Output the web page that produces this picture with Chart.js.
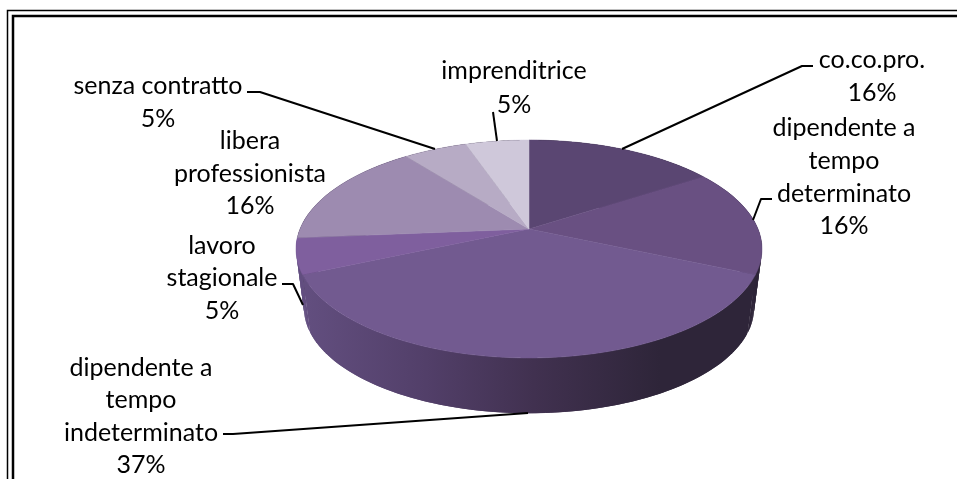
<!DOCTYPE html>
<html lang="it">
<head>
<meta charset="utf-8">
<title>Posizione lavorativa</title>
<style>
html,body{margin:0;padding:0;background:#fff;overflow:hidden}
canvas{display:block}
</style>
<script src="https://cdn.jsdelivr.net/npm/chart.js@4"></script>
</head>
<body>
<canvas id="c" width="957" height="479"></canvas>
<script>
// Data
const categories = ["co.co.pro.", "dipendente a tempo determinato", "dipendente a tempo indeterminato",
  "lavoro stagionale", "libera professionista", "senza contratto", "imprenditrice"];
const values = [3, 3, 7, 1, 3, 1, 1];
const labelLines = [
  ["co.co.pro."],
  ["dipendente a", "tempo", "determinato"],
  ["dipendente a", "tempo", "indeterminato"],
  ["lavoro", "stagionale"],
  ["libera", "professionista"],
  ["senza contratto"],
  ["imprenditrice"]
];
const sliceColors = ["#5a4672", "#695082", "#725a90", "#7f5f9e", "#9d8bb0", "#b7abc5", "#cfc8da"];

// Layout of the labels and leaders (not data)
const labelCenterX = [872, 844, 141, 222, 250, 158, 514];
const labelBaselines = [
  [67.5, 100.5],
  [135.5, 168.5, 201.5, 233.5],
  [375.5, 408, 441, 473],
  [253.5, 285.5, 318.5],
  [148.5, 181.5, 213.5],
  [93.5, 126.5],
  [78.5, 112.5]
];
const leaders = [
  [[813,66],[802,66],[622,149]],
  [[772,199],[761,199],[753,220]],
  [[223,434],[233,434],[528,413]],
  [[282,284],[293,284],[303,305]],
  null,
  [[247,92],[260,92],[435,149]],
  [[493,112],[497,141]]
];

// Perspective projection of the pie disc onto the page
const topDisc = {x: 529, y: 229, a: 229, b: 105.3};
const baseDisc = {x: 529, y: 288.7, a: 221.2, b: 101.7};
const persp = 0.1835;
function project(d, theta) {
  const u = Math.sin(theta), v = Math.cos(theta), w = 1 + persp * v;
  return [d.x + d.a * u / w, d.y - d.b * v / w];
}

const pie3d = {
  id: "pie3d",
  beforeDatasetDraw(chart) {
    const ctx = chart.ctx;
    const arcs = chart.getDatasetMeta(0).data;
    const span = a => [a.startAngle + Math.PI / 2, a.endAngle + Math.PI / 2];

    const grad = ctx.createLinearGradient(300, 0, 660, 0);
    grad.addColorStop(0, "#634f80");
    grad.addColorStop(0.35, "#523f69");
    grad.addColorStop(0.65, "#413150");
    grad.addColorStop(1, "#2e2539");
    const sideFill = i => i === 2 ? grad : (i === 3 ? "#634f80" : "#2e2539");

    // Sides, far slices first
    const order = arcs.map((a, i) => i).sort((i, j) => {
      const mid = k => { const s = span(arcs[k]); return Math.cos((s[0] + s[1]) / 2); };
      return mid(j) - mid(i);
    });
    order.forEach(i => {
      const [s, e] = span(arcs[i]);
      const n = Math.ceil((e - s) / (Math.PI / 180));
      ctx.fillStyle = sideFill(i);
      for (let k = 0; k < n; k++) {
        const t0 = s + (e - s) * k / n;
        const t1 = Math.min(e, s + (e - s) * (k + 2) / n); // overlaps the next strip so no seam shows
        const a = project(topDisc, t0), b = project(topDisc, t1);
        const c = project(baseDisc, t1), d = project(baseDisc, t0);
        ctx.beginPath();
        ctx.moveTo(a[0], a[1]); ctx.lineTo(b[0], b[1]);
        ctx.lineTo(c[0], c[1]); ctx.lineTo(d[0], d[1]);
        ctx.closePath();
        ctx.fill();
      }
    });

    // Top face
    arcs.forEach((arc, i) => {
      const [s, e] = span(arc);
      const n = Math.ceil((e - s) / (Math.PI / 360));
      ctx.beginPath();
      ctx.moveTo(topDisc.x, topDisc.y);
      for (let k = 0; k <= n; k++) {
        const p = project(topDisc, s + (e - s) * k / n);
        ctx.lineTo(p[0], p[1]);
      }
      ctx.closePath();
      ctx.fillStyle = arc.options.backgroundColor;
      ctx.strokeStyle = arc.options.backgroundColor;
      ctx.lineWidth = 0.5;
      ctx.fill(); ctx.stroke();
    });
    return false;
  },
  afterDraw(chart) {
    const ctx = chart.ctx;
    const total = values.reduce((a, b) => a + b, 0);

    // Double frame, cut by the picture's right and bottom edges
    ctx.save();
    ctx.strokeStyle = "#000";
    ctx.lineWidth = 1.5;
    ctx.beginPath(); ctx.moveTo(7.5, 480); ctx.lineTo(7.5, 10.5); ctx.lineTo(958, 10.5); ctx.stroke();
    ctx.lineWidth = 2.5;
    ctx.beginPath(); ctx.moveTo(13, 480); ctx.lineTo(13, 16); ctx.lineTo(958, 16); ctx.stroke();

    // Leaders
    ctx.lineWidth = 2;
    ctx.lineJoin = "round";
    leaders.forEach(pts => {
      if (!pts) return;
      ctx.beginPath();
      pts.forEach((p, i) => i ? ctx.lineTo(p[0], p[1]) : ctx.moveTo(p[0], p[1]));
      ctx.stroke();
    });

    // Labels
    ctx.fillStyle = "#000";
    ctx.font = '25px Lato';
    ctx.textAlign = "center";
    ctx.textBaseline = "alphabetic";
    values.forEach((v, i) => {
      const lines = labelLines[i].concat(Math.round(v / total * 100) + "%");
      lines.forEach((t, k) => ctx.fillText(t, labelCenterX[i], labelBaselines[i][k]));
    });
    ctx.restore();
  }
};

new Chart(document.getElementById("c"), {
  type: "pie",
  data: {
    labels: categories,
    datasets: [{ data: values, backgroundColor: sliceColors, borderWidth: 0 }]
  },
  options: {
    responsive: false,
    animation: false,
    layout: { padding: { left: 296, right: 195, top: 6, bottom: 7 } },
    plugins: { legend: { display: false }, tooltip: { enabled: false } }
  },
  plugins: [pie3d]
});
</script>
</body>
</html>
